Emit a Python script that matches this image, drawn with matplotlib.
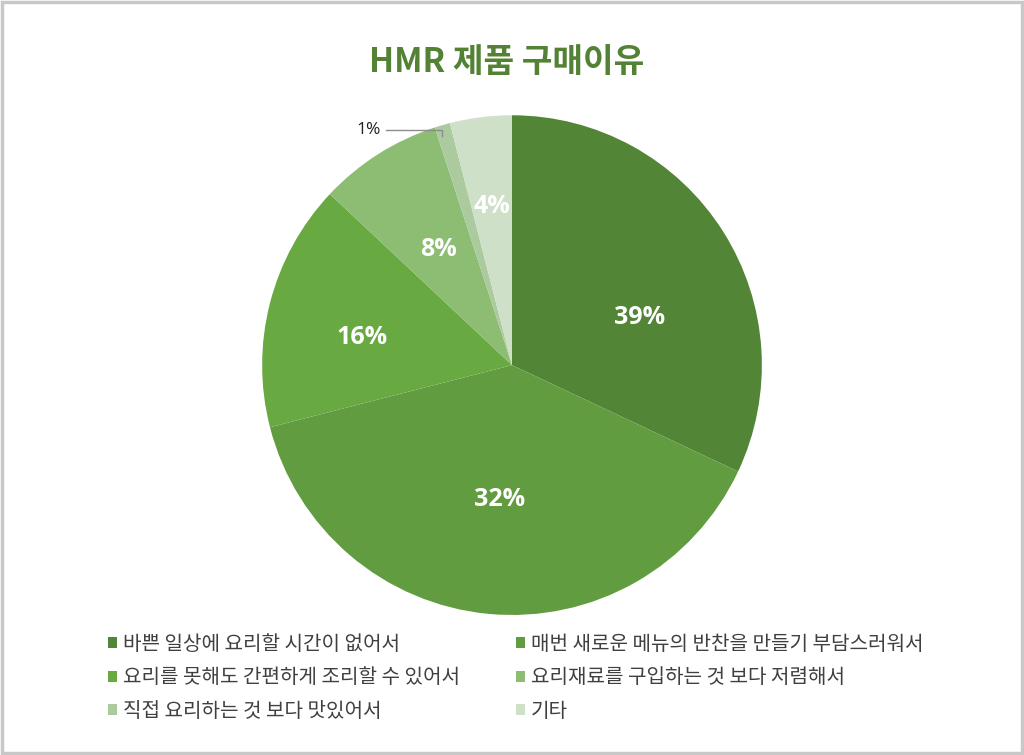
import matplotlib
matplotlib.use("Agg")
import matplotlib.pyplot as plt
from matplotlib.patches import Rectangle, Patch
import numpy as np

plt.rcParams['font.family'] = ['Noto Sans CJK KR', 'DejaVu Sans']

title = "HMR 제품 구매이유"
categories = [
    "바쁜 일상에 요리할 시간이 없어서",
    "매번 새로운 메뉴의 반찬을 만들기 부담스러워서",
    "요리를 못해도 간편하게 조리할 수 있어서",
    "요리재료를 구입하는 것 보다 저렴해서",
    "직접 요리하는 것 보다 맛있어서",
    "기타",
]
# slice sizes as drawn in the reference picture
values = [32, 39, 16, 8, 1, 4]
# percentage labels as printed in the reference picture
pct_labels = ["39%", "32%", "16%", "8%", "1%", "4%"]
colors = ["#528535", "#629c40", "#69a942", "#8dbd72", "#abca9e", "#cfe0c9"]

fig = plt.figure(figsize=(10.24, 7.55), dpi=100)
fig.patches.append(Rectangle((0.002, 0.002), 0.996, 0.995, transform=fig.transFigure,
                             fill=False, edgecolor="#c8c8c8", linewidth=2.5))

fig.text(0.495, 0.917, title, ha="center", va="center", fontsize=24,
         fontweight="bold", color="#548235")

ax = fig.add_axes([0.256, 0.1854, 0.488, 0.662])
wedges, _ = ax.pie(values, colors=colors, startangle=90, counterclock=False,
                   wedgeprops=dict(linewidth=0))
ax.set_aspect("equal")
ax.set_xlim(-1, 1)
ax.set_ylim(-1, 1)
ax.axis("off")

dists = [0.545, 0.54, 0.61, 0.55, None, 0.64]
ang_off = [-12, 0, 4, 0, 0, 0]
for w, lab, d, off in zip(wedges, pct_labels, dists, ang_off):
    ang = np.deg2rad((w.theta1 + w.theta2) / 2 + off)
    x, y = np.cos(ang), np.sin(ang)
    if d is None:
        ax.plot([x, x, -0.504], [y - 0.044, y - 0.02, y - 0.02],
                color="#8c8c8c", linewidth=1, clip_on=False)
        ax.text(-0.525, y - 0.02, lab, ha="right", va="center", fontsize=12.5,
                family=["Open Sans", "DejaVu Sans"], color="#222222")
    else:
        ax.text(x * d, y * d, lab, ha="center", va="center", fontsize=18,
                family=["Open Sans", "DejaVu Sans"], fontweight="bold",
                color="white")

handles = [Patch(facecolor=c, edgecolor="none") for c in colors]
leg_kw = dict(loc="upper left", frameon=False, fontsize=14.5,
              handlelength=0.45, handleheight=0.45, handletextpad=0.3,
              labelspacing=0.62, borderpad=0, borderaxespad=0)
top = 1 - 634 / 755
leg1 = fig.legend([handles[i] for i in (0, 2, 4)], [categories[i] for i in (0, 2, 4)],
                  bbox_to_anchor=(108 / 1024, top), **leg_kw)
leg2 = fig.legend([handles[i] for i in (1, 3, 5)], [categories[i] for i in (1, 3, 5)],
                  bbox_to_anchor=(516 / 1024, top), **leg_kw)
for leg in (leg1, leg2):
    for t in leg.get_texts():
        t.set_color("#404040")

fig.savefig("out.png", dpi=100)
